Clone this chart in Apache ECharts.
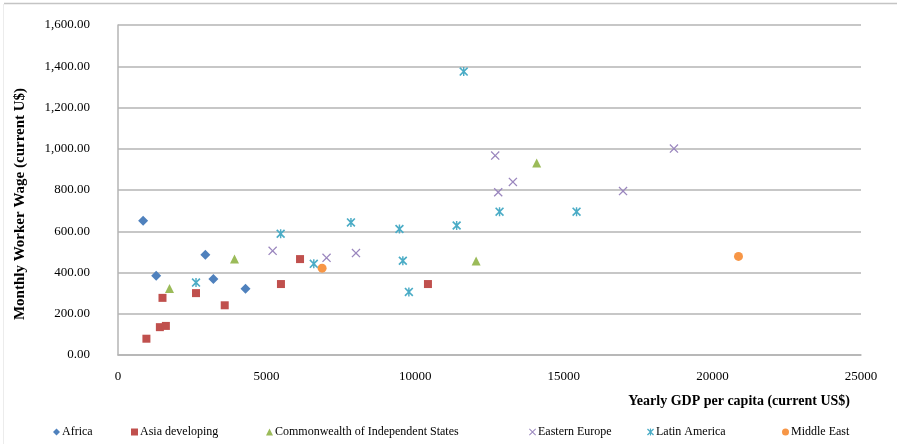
<!DOCTYPE html>
<html>
<head>
<meta charset="utf-8">
<script src="https://cdn.jsdelivr.net/npm/echarts@6/dist/echarts.min.js"></script>
<style>
  html, body { margin: 0; padding: 0; background: #fff; }
  #chart { width: 897px; height: 444px; }
</style>
</head>
<body>
<div id="chart"></div>
<script>
// GDP per capita (US$) vs monthly worker wage (US$), by region
const africa = [[845, 651], [1284, 384], [2939, 486], [3209, 369], [4291, 321]];
const asiaDeveloping = [[956, 79], [1409, 135], [1611, 141], [1497, 277], [2625, 300], [3591, 241],
  [5483, 344], [6125, 465], [10429, 344]];
const cis = [[1733, 322], [3919, 465], [12050, 456], [14088, 931]];
const easternEurope = [[5203, 505], [7017, 471], [8007, 494], [12692, 967], [13287, 839],
  [12793, 789], [16993, 795], [18706, 1001]];
const latinAmerica = [[2625, 351], [5473, 588], [6588, 442], [7838, 643], [9470, 611], [11395, 628],
  [12838, 695], [15429, 695], [9584, 457], [9787, 306], [11632, 1374]];
const middleEast = [[6868, 421], [20878, 478]];

const seriesNames = ['Africa', 'Asia developing', 'Commonwealth of Independent States',
  'Eastern Europe', 'Latin America', 'Middle East'];
const xTicks = [0, 5000, 10000, 15000, 20000, 25000];
const yTicks = [0, 200, 400, 600, 800, 1000, 1200, 1400, 1600];

const FONT = 'Liberation Serif';
const xMark = 'path://M0,1 L1,0 L5,4 L9,0 L10,1 L6,5 L10,9 L9,10 L5,6 L1,10 L0,9 L4,5 Z';
const starMark = 'path://M0,1.3 L1.3,0 L5,3.7 L8.7,0 L10,1.3 L6.3,5 L10,8.7 L8.7,10 L5,6.3 L1.3,10 L0,8.7 L3.7,5 Z M4.2,0 L5.8,0 L5.8,10 L4.2,10 Z';

const styles = [
  { data: africa, color: '#4F81BD', symbol: 'diamond', size: 10 },
  { data: asiaDeveloping, color: '#C0504D', symbol: 'rect', size: 8 },
  { data: cis, color: '#9BBB59', symbol: 'triangle', size: 9 },
  { data: easternEurope, color: '#9A86BE', symbol: xMark, size: 9 },
  { data: latinAmerica, color: '#4BACC6', symbol: starMark, size: 9 },
  { data: middleEast, color: '#F79646', symbol: 'circle', size: 9 }
];

function fmtWage(v) {
  const s = Math.round(v).toString().replace(/\B(?=(\d{3})+(?!\d))/g, ',');
  return s + '.00';
}

const legendLeft = [53, 131, 266, 529, 647, 782];
const legends = seriesNames.map((n, i) => ({
  data: [n],
  left: legendLeft[i],
  top: 426,
  itemWidth: 7,
  itemHeight: 7,
  itemGap: 0,
  padding: 0,
  textStyle: { fontFamily: FONT, fontSize: 12, color: '#000', padding: [0, 0, 0, -3] }
}));

const chart = echarts.init(document.getElementById('chart'), null, { renderer: 'canvas' });
chart.setOption({
  animation: false,
  backgroundColor: '#fff',
  grid: { left: 118, right: 36, top: 25, bottom: 89, containLabel: false, outerBoundsMode: 'none' },
  legend: legends,
  xAxis: {
    type: 'value',
    min: xTicks[0],
    max: xTicks[xTicks.length - 1],
    interval: 5000,
    splitLine: { show: false },
    axisLine: { show: true, lineStyle: { color: '#b4b4b4', width: 1.5 } },
    axisTick: { show: false },
    axisLabel: { fontFamily: FONT, fontSize: 13, color: '#000', margin: 15, formatter: v => String(v) },
    name: 'Yearly GDP per capita (current US$)',
    nameLocation: 'end',
    nameGap: -11,
    nameTextStyle: {
      fontFamily: FONT, fontSize: 14, fontWeight: 'bold', color: '#000',
      align: 'right', verticalAlign: 'top', padding: [39, 0, 0, 0]
    }
  },
  yAxis: {
    type: 'value',
    min: yTicks[0],
    max: yTicks[yTicks.length - 1],
    interval: 200,
    splitLine: { show: true, lineStyle: { color: '#b4b4b4', width: 1.5 } },
    axisLine: { show: true, lineStyle: { color: '#b4b4b4', width: 1.5 } },
    axisTick: { show: false },
    axisLabel: { fontFamily: FONT, fontSize: 13, color: '#000', margin: 28, formatter: fmtWage },
    name: 'Monthly Worker Wage (current U$)',
    nameLocation: 'middle',
    nameGap: 90,
    nameTextStyle: { fontFamily: FONT, fontSize: 15, fontWeight: 'bold', color: '#000', padding: [0, 0, 0, -28] }
  },
  graphic: [
    { type: 'line', shape: { x1: 4, y1: 3.5, x2: 897, y2: 3.5 }, style: { stroke: '#c4c4c4', lineWidth: 1.5 } },
    { type: 'line', shape: { x1: 3.5, y1: 4, x2: 3.5, y2: 444 }, style: { stroke: '#ececec', lineWidth: 1 } }
  ],
  series: styles.map((s, i) => ({
    name: seriesNames[i],
    type: 'scatter',
    data: s.data,
    symbol: s.symbol,
    symbolSize: s.size,
    itemStyle: { color: s.color, opacity: 1 }
  }))
});
</script>
</body>
</html>
